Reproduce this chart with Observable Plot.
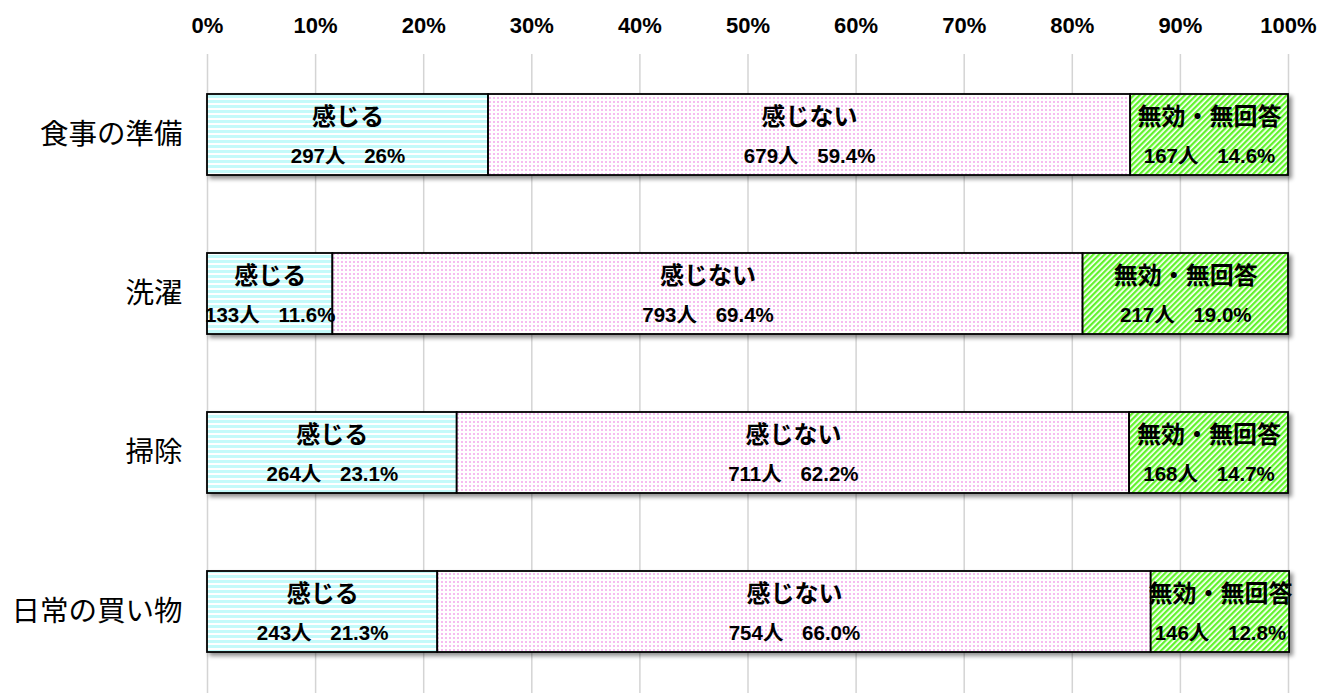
<!DOCTYPE html>
<html>
<head>
<meta charset="utf-8">
<script src="https://cdn.jsdelivr.net/npm/d3@7"></script>
<script src="https://cdn.jsdelivr.net/npm/@observablehq/plot@0.6"></script>
<style>
  body { margin: 0; background: #fff; }
  g[aria-label="bar"] { filter: drop-shadow(3px 3px 2px rgba(0,0,0,0.45)); }
</style>
</head>
<body>
<div id="chart"></div>
<script>
const categories = ["食事の準備", "洗濯", "掃除", "日常の買い物"];
const seriesNames = ["感じる", "感じない", "無効・無回答"];
const counts = [
  [297, 679, 167],
  [133, 793, 217],
  [264, 711, 168],
  [243, 754, 146]
];
const percents = [
  [26, 59.4, 14.6],
  [11.6, 69.4, 19.0],
  [23.1, 62.2, 14.7],
  [21.3, 66.0, 12.8]
];
const percentLabels = [
  ["26%", "59.4%", "14.6%"],
  ["11.6%", "69.4%", "19.0%"],
  ["23.1%", "62.2%", "14.7%"],
  ["21.3%", "66.0%", "12.8%"]
];
const tickValues = [0, 10, 20, 30, 40, 50, 60, 70, 80, 90, 100];
const tickLabels = ["0%", "10%", "20%", "30%", "40%", "50%", "60%", "70%", "80%", "90%", "100%"];

const data = [];
categories.forEach((c, i) => {
  seriesNames.forEach((s, j) => {
    data.push({category: c, series: s, value: percents[i][j], count: counts[i][j], plabel: percentLabels[i][j]});
  });
});

const latin = "'Liberation Sans','Arial','Noto Sans CJK JP',sans-serif";
const cjk = "'Noto Sans CJK JP',sans-serif";

const chart = Plot.plot({
  width: 1329,
  height: 693,
  marginLeft: 207,
  marginRight: 41,
  marginTop: 54,
  marginBottom: 0,
  style: {background: "#fff", fontFamily: latin},
  x: {domain: [0, 100], axis: null},
  y: {domain: categories, paddingInner: 0.49, paddingOuter: 0.245, axis: null},
  color: {domain: seriesNames, range: ["url(#pKanjiru)", "url(#pNai)", "url(#pMuko)"]},
  marks: [
    Plot.gridX(tickValues, {stroke: "#d4d4d4", strokeOpacity: 1, strokeWidth: 1.5}),
    Plot.axisX({anchor: "top", ticks: tickValues, tickFormat: (d) => tickLabels[tickValues.indexOf(d)], tickSize: 0, tickPadding: 22, fontSize: 22, fontWeight: "bold", fontFamily: latin, fill: "#000", label: null}),
    Plot.axisY({tickSize: 0, tickPadding: 25, fontSize: 28.5, fontFamily: cjk, fill: "#000", label: null}),
    Plot.barX(data, Plot.stackX({x: "value", y: "category", z: "series", fill: "series", stroke: "#000", strokeWidth: 1.8})),
    Plot.text(data, Plot.stackX({x: "value", y: "category", z: "series", text: "series", fontSize: 24, fontWeight: "bold", fontFamily: cjk, fill: "#000", dy: -18})),
    Plot.text(data, Plot.stackX({x: "value", y: "category", z: "series", text: (d) => d.count + "人 " + d.plabel, fontSize: 20.5, fontWeight: "bold", fontFamily: latin, fill: "#000", dy: 21}))
  ]
});

const svg = d3.select(chart);
svg.selectAll("text").filter(function() { return this.textContent.includes("人 "); }).style("word-spacing", "13px");
const defs = svg.insert("defs", ":first-child");
const p1 = defs.append("pattern").attr("id", "pKanjiru").attr("patternUnits", "userSpaceOnUse").attr("width", 5).attr("height", 5);
p1.append("rect").attr("width", 5).attr("height", 5).attr("fill", "#ffffff");
p1.append("rect").attr("width", 5).attr("height", 3).attr("fill", "#c4fafa");
const p2 = defs.append("pattern").attr("id", "pNai").attr("patternUnits", "userSpaceOnUse").attr("width", 4).attr("height", 4);
p2.append("rect").attr("width", 4).attr("height", 4).attr("fill", "#ffffff");
p2.append("rect").attr("x", 1).attr("y", 1).attr("width", 2).attr("height", 2).attr("fill", "#f5bdf0");
const p3 = defs.append("pattern").attr("id", "pMuko").attr("patternUnits", "userSpaceOnUse").attr("width", 4).attr("height", 4).attr("patternTransform", "rotate(45)");
p3.append("rect").attr("width", 4).attr("height", 4).attr("fill", "#ffffff");
p3.append("rect").attr("width", 2.3).attr("height", 4).attr("fill", "#62f42c");

document.getElementById("chart").appendChild(chart);
</script>
</body>
</html>
